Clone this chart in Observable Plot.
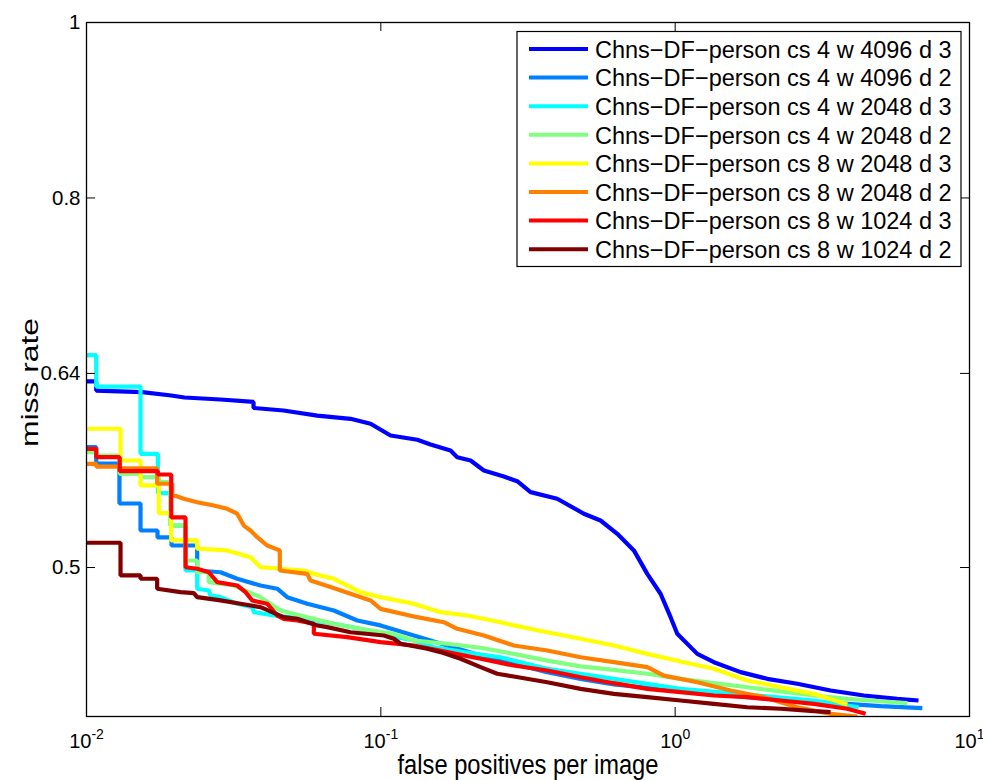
<!DOCTYPE html>
<html><head><meta charset="utf-8">
<script src="https://cdn.jsdelivr.net/npm/d3@7"></script>
<script src="https://cdn.jsdelivr.net/npm/@observablehq/plot@0.6"></script>
<style>
html,body{margin:0;padding:0;background:#fff;}
#chart{width:983px;height:780px;}
</style></head><body><div id="chart"></div>
<script>
const seriesNames = [
  "Chns\u2212DF\u2212person cs 4 w 4096 d 3",
  "Chns\u2212DF\u2212person cs 4 w 4096 d 2",
  "Chns\u2212DF\u2212person cs 4 w 2048 d 3",
  "Chns\u2212DF\u2212person cs 4 w 2048 d 2",
  "Chns\u2212DF\u2212person cs 8 w 2048 d 3",
  "Chns\u2212DF\u2212person cs 8 w 2048 d 2",
  "Chns\u2212DF\u2212person cs 8 w 1024 d 3",
  "Chns\u2212DF\u2212person cs 8 w 1024 d 2"
];
const seriesColors = ["#0000ff","#0080ff","#00ffff","#80ff80","#ffff00","#ff8000","#ff0000","#800000"];
const xTicks = [0.01, 0.1, 1, 10];
const xTickLabels = ["10^-2", "10^-1", "10^0", "10^1"];
const yTicks = [0.5, 0.64, 0.8, 1];
const yTickLabels = ["0.5", "0.64", "0.8", "1"];
const xLabel = "false positives per image";
const yLabel = "miss rate";

// [false positives per image, miss rate]
const cs4_w4096_d3 = [[0.01,0.6335],[0.01079,0.6335],[0.01079,0.6262],[0.01546,0.6249],[0.01940,0.6223],[0.02153,0.6207],[0.02852,0.6191],[0.03694,0.6172],[0.03694,0.6125],[0.04671,0.6105],[0.06080,0.6066],[0.07889,0.6041],[0.09226,0.6003],[0.1079,0.5914],[0.1330,0.5882],[0.1475,0.5847],[0.1725,0.5802],[0.1818,0.5753],[0.2018,0.5729],[0.2239,0.5657],[0.2618,0.5614],[0.2906,0.5580],[0.3226,0.5503],[0.3975,0.5457],[0.4896,0.5354],[0.5577,0.5308],[0.6358,0.5219],[0.7239,0.5110],[0.8039,0.4960],[0.8920,0.4836],[0.9647,0.4694],[1.0165,0.4596],[1.189,0.4480],[1.354,0.4433],[1.668,0.4377],[2.056,0.4340],[2.600,0.4313],[3.373,0.4276],[4.377,0.4249],[5.685,0.4231],[6.71,0.4222]];
const cs4_w4096_d2 = [[0.01,0.5828],[0.01079,0.5828],[0.01079,0.5707],[0.01294,0.5707],[0.01294,0.5424],[0.01526,0.5424],[0.01526,0.5241],[0.01743,0.5241],[0.01743,0.5195],[0.01945,0.5195],[0.01945,0.5142],[0.02377,0.5142],[0.02377,0.4981],[0.02852,0.4970],[0.03251,0.4929],[0.03901,0.4887],[0.04446,0.4867],[0.04808,0.4815],[0.05622,0.4775],[0.06923,0.4734],[0.08317,0.4674],[0.0998,0.4645],[0.1294,0.4586],[0.1681,0.4528],[0.2183,0.4471],[0.2830,0.4424],[0.3676,0.4377],[0.4771,0.4340],[0.6190,0.4309],[0.8039,0.4291],[1.043,0.4272],[1.354,0.4258],[1.758,0.4240],[2.282,0.4226],[2.960,0.4213],[3.844,0.4204],[4.989,0.4192],[6.914,0.4181]];
const cs4_w2048_d3 = [[0.01,0.6550],[0.01079,0.6550],[0.01079,0.6294],[0.01526,0.6294],[0.01526,0.5778],[0.01748,0.5778],[0.01748,0.5496],[0.01929,0.5496],[0.01929,0.5274],[0.02170,0.5274],[0.02170,0.4981],[0.02377,0.4981],[0.02377,0.4867],[0.02603,0.4856],[0.02638,0.4825],[0.02852,0.4815],[0.03251,0.4775],[0.03656,0.4754],[0.03703,0.4724],[0.04330,0.4704],[0.05622,0.4684],[0.06923,0.4655],[0.08531,0.4625],[0.1051,0.4586],[0.1294,0.4557],[0.1514,0.4518],[0.1914,0.4490],[0.2551,0.4461],[0.3676,0.4396],[0.6190,0.4340],[1.043,0.4285],[1.758,0.4254],[2.960,0.4222],[4.200,0.4186]];
const cs4_w2048_d2 = [[0.01,0.5790],[0.01079,0.5790],[0.01079,0.5765],[0.01297,0.5765],[0.01297,0.5633],[0.01526,0.5633],[0.01526,0.5609],[0.01761,0.5609],[0.01761,0.5573],[0.01929,0.5573],[0.01929,0.5274],[0.02170,0.5274],[0.02170,0.5045],[0.02377,0.5045],[0.02377,0.4970],[0.02603,0.4970],[0.02603,0.4908],[0.03166,0.4887],[0.03901,0.4815],[0.04562,0.4734],[0.05622,0.4694],[0.06923,0.4655],[0.08531,0.4625],[0.1107,0.4596],[0.1294,0.4557],[0.1681,0.4538],[0.2183,0.4515],[0.2830,0.4480],[0.3676,0.4442],[0.4771,0.4409],[0.6190,0.4390],[0.8039,0.4368],[1.043,0.4340],[1.354,0.4316],[1.758,0.4294],[2.282,0.4271],[2.960,0.4249],[3.844,0.4231],[4.989,0.4218],[6.148,0.4208]];
const cs8_w2048_d3 = [[0.01,0.5965],[0.01305,0.5965],[0.01305,0.5729],[0.01526,0.5729],[0.01526,0.5550],[0.01761,0.5550],[0.01761,0.5358],[0.01940,0.5358],[0.01940,0.5175],[0.02377,0.5175],[0.02377,0.5121],[0.03006,0.5110],[0.03608,0.5066],[0.03901,0.5002],[0.04562,0.4992],[0.05475,0.4981],[0.05921,0.4960],[0.06923,0.4929],[0.08531,0.4846],[0.0998,0.4815],[0.1294,0.4775],[0.1595,0.4724],[0.1966,0.4704],[0.2551,0.4664],[0.2830,0.4645],[0.3676,0.4605],[0.4771,0.4567],[0.6190,0.4528],[0.8039,0.4480],[1.043,0.4437],[1.354,0.4396],[1.758,0.4331],[2.282,0.4294],[2.960,0.4258],[3.844,0.4200]];
const cs8_w2048_d2 = [[0.01,0.5705],[0.01079,0.5705],[0.01079,0.5685],[0.01297,0.5685],[0.01297,0.5673],[0.01738,0.5673],[0.01738,0.5562],[0.01956,0.5562],[0.01956,0.5485],[0.02141,0.5457],[0.02377,0.5433],[0.02707,0.5410],[0.03006,0.5388],[0.03251,0.5354],[0.03423,0.5274],[0.03608,0.5241],[0.03802,0.5197],[0.04111,0.5142],[0.04537,0.5110],[0.04537,0.4981],[0.05622,0.4960],[0.05770,0.4918],[0.06747,0.4877],[0.07889,0.4836],[0.09226,0.4795],[0.0998,0.4744],[0.1330,0.4694],[0.1637,0.4664],[0.1818,0.4625],[0.2239,0.4586],[0.2830,0.4528],[0.3676,0.4499],[0.4771,0.4461],[0.6190,0.4433],[0.8039,0.4405],[0.9154,0.4358],[1.189,0.4321],[1.543,0.4276],[2.002,0.4240],[2.600,0.4186],[3.373,0.4151],[4.158,0.4137]];
const cs8_w1024_d3 = [[0.01,0.5815],[0.01079,0.5815],[0.01079,0.5753],[0.01297,0.5753],[0.01297,0.5652],[0.01748,0.5652],[0.01748,0.5628],[0.01940,0.5628],[0.01940,0.5329],[0.02170,0.5329],[0.02170,0.5002],[0.02377,0.4992],[0.02603,0.4970],[0.02780,0.4908],[0.03251,0.4887],[0.03470,0.4846],[0.03656,0.4795],[0.04111,0.4775],[0.04446,0.4704],[0.04682,0.4684],[0.05199,0.4674],[0.05921,0.4655],[0.05921,0.4596],[0.07687,0.4576],[0.0998,0.4547],[0.1294,0.4528],[0.1681,0.4490],[0.2183,0.4452],[0.2830,0.4414],[0.3676,0.4386],[0.4771,0.4349],[0.6190,0.4316],[0.8039,0.4285],[1.043,0.4267],[1.354,0.4249],[1.758,0.4240],[2.282,0.4222],[2.960,0.4204],[3.844,0.4178],[4.436,0.4151]];
const cs8_w1024_d2 = [[0.01,0.5160],[0.01305,0.5160],[0.01305,0.4950],[0.01526,0.4950],[0.01526,0.4929],[0.01738,0.4929],[0.01738,0.4867],[0.02087,0.4846],[0.02315,0.4840],[0.02377,0.4815],[0.02852,0.4795],[0.03336,0.4775],[0.03901,0.4754],[0.04671,0.4694],[0.05199,0.4684],[0.06080,0.4645],[0.06575,0.4635],[0.07889,0.4605],[0.1024,0.4586],[0.1107,0.4567],[0.1167,0.4538],[0.1438,0.4509],[0.1595,0.4490],[0.1866,0.4452],[0.2183,0.4405],[0.2486,0.4368],[0.2830,0.4353],[0.3676,0.4321],[0.4771,0.4285],[0.6190,0.4258],[0.8039,0.4240],[1.043,0.4222],[1.354,0.4204],[1.758,0.4186],[2.282,0.4178],[2.960,0.4165],[3.373,0.4160]];

const seriesData = [cs4_w4096_d3, cs4_w4096_d2, cs4_w2048_d3, cs4_w2048_d2, cs8_w2048_d3, cs8_w2048_d2, cs8_w1024_d3, cs8_w1024_d2];
const rows = seriesData.flatMap((pts, i) => pts.map(([x, y]) => ({series: seriesNames[i], x, y})));

const W = 983, H = 780;
const mL = 86, mR = 14, mT = 22, mB = 64;
const innerW = W - mL - mR, innerH = H - mT - mB;
const tick = 9;
const FONT = "'Liberation Sans', Arial, Helvetica, sans-serif";

const plot = Plot.plot({
  width: W, height: H,
  marginLeft: mL, marginRight: mR, marginTop: mT, marginBottom: mB,
  style: {fontFamily: FONT, background: "#fff", color: "#000"},
  x: {type: "log", domain: [0.01, 10]},
  y: {type: "log", domain: [0.4137, 1]},
  color: {domain: seriesNames, range: seriesColors},
  marks: [
    Plot.line(rows, {x: "x", y: "y", z: "series", stroke: "series", strokeWidth: 4.2, strokeLinejoin: "miter", strokeLinecap: "butt", clip: true}),
    Plot.frame({stroke: "#000", strokeWidth: 1.3}),
    Plot.ruleX(xTicks, {x: d => d, insetTop: innerH - tick, stroke: "#000", strokeWidth: 1}),
    Plot.ruleX(xTicks, {x: d => d, insetBottom: innerH - tick, stroke: "#000", strokeWidth: 1}),
    Plot.ruleY(yTicks, {y: d => d, insetRight: innerW - tick, stroke: "#000", strokeWidth: 1}),
    Plot.ruleY(yTicks, {y: d => d, insetLeft: innerW - tick, stroke: "#000", strokeWidth: 1}),
    Plot.axisX({ticks: xTicks, tickSize: 0, tickPadding: 17, fontSize: 20, label: null,
      tickFormat: d => xTickLabels[xTicks.indexOf(d)]}),
    Plot.axisY({ticks: yTicks, tickSize: 0, tickPadding: 6, fontSize: 20.5, label: null,
      tickFormat: d => yTickLabels[yTicks.indexOf(d)]}),
    Plot.text([xLabel], {frameAnchor: "bottom", dy: 57, fontSize: 27, fill: "#000"}),
    Plot.text([yLabel], {frameAnchor: "left", textAnchor: "middle", dx: -56, dy: 13, rotate: -90, fontSize: 24, fill: "#000"})
  ]
});

const svg = d3.select(plot);

// stretch axis titles to the reference's proportions
svg.selectAll("text").each(function() {
  const t = d3.select(this);
  if (t.text() === xLabel) t.attr("textLength", 261).attr("lengthAdjust", "spacingAndGlyphs");
  if (t.text() === yLabel) t.attr("textLength", 129).attr("lengthAdjust", "spacingAndGlyphs");
});

// superscript exponents on x tick labels
svg.selectAll('g[aria-label="x-axis tick label"] text').each(function() {
  const t = d3.select(this);
  const s = t.text();
  const parts = s.split("^");
  if (parts.length === 2) {
    t.text(null);
    t.append("tspan").text(parts[0]);
    t.append("tspan").attr("dy", -9).attr("font-size", 14).text(parts[1]);
  }
});

// legend
const lg = svg.append("g").attr("font-family", FONT).attr("text-anchor", "start");
lg.append("rect").attr("x", 517).attr("y", 31.5).attr("width", 444).attr("height", 235)
  .attr("fill", "#fff").attr("stroke", "#000").attr("stroke-width", 1.2);
seriesNames.forEach((name, i) => {
  const yy = 49 + i * 28.6;
  lg.append("line").attr("x1", 529).attr("x2", 588).attr("y1", yy).attr("y2", yy)
    .attr("stroke", seriesColors[i]).attr("stroke-width", 4);
  lg.append("text").attr("x", 595).attr("y", yy + 8.8).attr("font-size", 23.5)
    .attr("text-anchor", "start").attr("fill", "#000").text(name);
});

document.getElementById("chart").appendChild(plot);
</script></body></html>
